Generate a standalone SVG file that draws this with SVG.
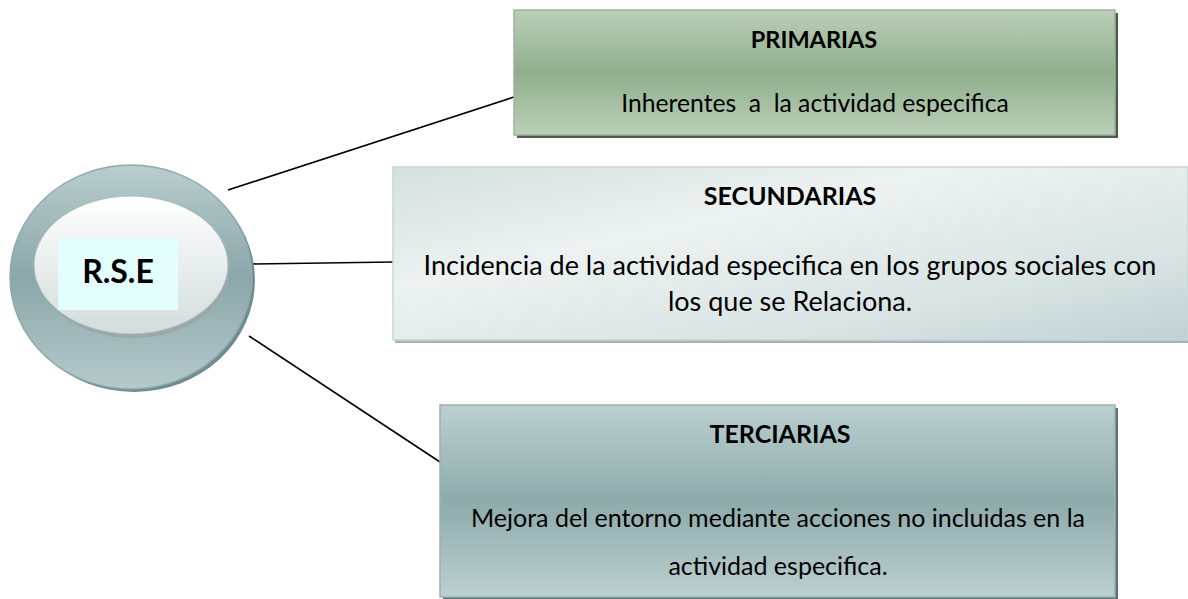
<svg xmlns="http://www.w3.org/2000/svg" width="1188" height="599" viewBox="0 0 1188 599">
<style>
.t{font-family:Lato,"Liberation Sans",sans-serif;fill:#000;text-anchor:middle}
.b{font-weight:bold}
.p{white-space:pre}
.c{stroke:#000;stroke-width:1.6;fill:none}
</style>
<defs>
<linearGradient id="gP" x1="0" y1="0" x2="0" y2="1">
<stop offset="0" stop-color="#bccfb9"/><stop offset="0.5" stop-color="#8fae8b"/><stop offset="1" stop-color="#bcd0b9"/>
</linearGradient>
<linearGradient id="gS" x1="0" y1="0" x2="1" y2="1">
<stop offset="0" stop-color="#d4e0df"/><stop offset="0.35" stop-color="#ecf2f1"/><stop offset="0.75" stop-color="#d8e3e3"/><stop offset="1" stop-color="#c0d1d3"/>
</linearGradient>
<linearGradient id="gT" x1="0" y1="0" x2="0" y2="1">
<stop offset="0" stop-color="#bcd0d0"/><stop offset="0.5" stop-color="#8eaaaa"/><stop offset="1" stop-color="#bccfd0"/>
</linearGradient>
<linearGradient id="gO" x1="0" y1="0" x2="0" y2="1">
<stop offset="0" stop-color="#b9cdcd"/><stop offset="0.5" stop-color="#8ba7a9"/><stop offset="1" stop-color="#b5c9ca"/>
</linearGradient>
<linearGradient id="gI" x1="0" y1="0" x2="0" y2="1">
<stop offset="0" stop-color="#ffffff"/><stop offset="1" stop-color="#d2dcdc"/>
</linearGradient>
</defs>
<g id="connectors">
<line class="c" x1="228" y1="190" x2="514" y2="97"/>
<line class="c" x1="250" y1="264" x2="393" y2="262"/>
<line class="c" x1="249" y1="336" x2="440" y2="462"/>
</g>
<g id="rse">
<ellipse cx="134" cy="280" rx="121" ry="112" fill="#6f8c8e"/>
<ellipse cx="131" cy="277" rx="121" ry="112" fill="url(#gO)" stroke="#8fabad" stroke-width="1.5"/>
<ellipse cx="133" cy="269" rx="97" ry="69" fill="#9aa8a8"/>
<ellipse cx="131" cy="265" rx="97" ry="69" fill="url(#gI)" stroke="#a9bcbc" stroke-width="1"/>
<rect x="58" y="238" width="120" height="72" fill="#e3fefd"/>
<text class="t b" x="118" y="283" font-size="32">R.S.E</text>
</g>
<g id="primarias">
<rect x="517" y="13" width="601" height="125" fill="#4a5f47"/>
<rect x="514" y="10" width="601" height="125" fill="url(#gP)" stroke="#9ab598" stroke-width="1.5"/>
<text class="t b" x="814" y="48" font-size="23.5">PRIMARIAS</text>
<text class="t p" x="815" y="112" font-size="24.7">Inherentes  a  la actividad especifica</text>
</g>
<g id="secundarias">
<rect x="395" y="169" width="795" height="174" fill="#a9b3b3"/>
<rect x="393" y="167" width="795" height="173" fill="url(#gS)" stroke="#c8d6d6" stroke-width="1.5"/>
<text class="t b" x="790" y="205" font-size="25">SECUNDARIAS</text>
<text class="t" x="790" y="275" font-size="27">Incidencia de la actividad especifica en los grupos sociales con</text>
<text class="t" x="790" y="311" font-size="27">los que se Relaciona.</text>
</g>
<g id="terciarias">
<rect x="443" y="408" width="675" height="192" fill="#5c7172"/>
<rect x="440" y="405" width="675" height="192" fill="url(#gT)" stroke="#98b2b3" stroke-width="1.5"/>
<text class="t b" x="780" y="443" font-size="25">TERCIARIAS</text>
<text class="t" x="778" y="527" font-size="25">Mejora del entorno mediante acciones no incluidas en la</text>
<text class="t" x="778" y="575" font-size="25">actividad especifica.</text>
</g>
</svg>
